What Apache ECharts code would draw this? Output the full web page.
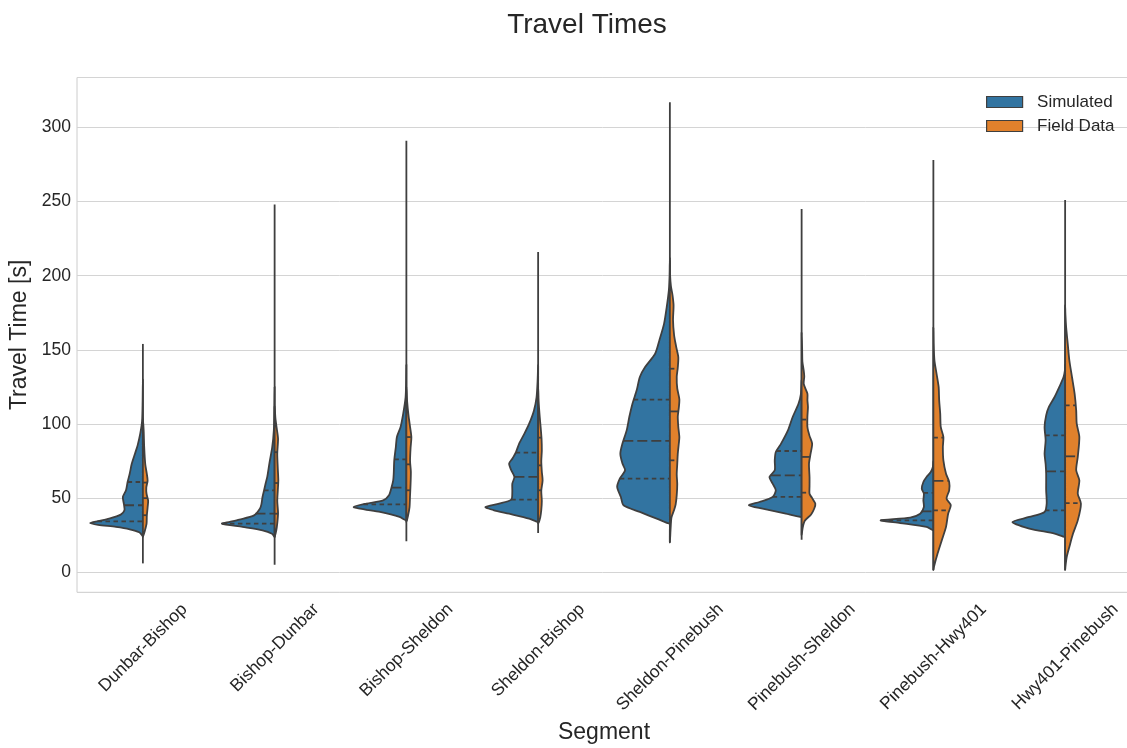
<!DOCTYPE html>
<html><head><meta charset="utf-8">
<script src="https://cdn.jsdelivr.net/npm/echarts@6/dist/echarts.min.js"></script>
<style>html,body{margin:0;padding:0;background:#fff}#c{width:1127px;height:748px}</style>
</head><body><div id="c"></div><script>
// ---------------- data ----------------
const categories = ['Dunbar-Bishop','Bishop-Dunbar','Bishop-Sheldon','Sheldon-Bishop','Sheldon-Pinebush','Pinebush-Sheldon','Pinebush-Hwy401','Hwy401-Pinebush'];
const seriesNames = ['Simulated', 'Field Data'];

// density outlines: [travel time (s), relative half-width]
const simShapes = [
  [[24.5,0],[27,0.07],[29,0.25],[30.6,0.51],[32,0.85],[33.2,1.0],[34.5,0.85],[36.2,0.64],[38.9,0.42],[41.8,0.35],[46,0.36],[50.8,0.38],[55.3,0.32],[60.9,0.29],[66.5,0.25],[73.3,0.21],[80,0.15],[85.6,0.10],[93.5,0.05],[102,0.015],[115,0.005],[130,0]],
  [[23.8,0],[26,0.05],[28.3,0.23],[30.6,0.61],[32.8,1.0],[34,0.85],[35.5,0.67],[38.4,0.39],[42.9,0.28],[46,0.25],[50.8,0.23],[55.3,0.2],[60,0.17],[64.3,0.14],[73.3,0.1],[84.5,0.045],[95.7,0.015],[110,0.005],[125,0]],
  [[35,0],[37.3,0.13],[40.7,0.5],[42.5,0.8],[44,1.0],[46.3,0.76],[48.5,0.44],[51.9,0.33],[57.5,0.28],[62,0.25],[66.5,0.24],[75.5,0.23],[84.5,0.2],[91.2,0.18],[98,0.11],[107,0.06],[118,0.015],[130,0.004],[140,0]],
  [[33.9,0],[36.2,0.17],[39.5,0.55],[42,0.85],[44,1.0],[46.3,0.74],[49,0.51],[54.1,0.49],[59.8,0.49],[64.3,0.45],[68.8,0.51],[73.3,0.55],[76.6,0.49],[81.1,0.42],[86.8,0.36],[93.5,0.26],[100.2,0.17],[109,0.08],[118,0.03],[129,0.01],[140,0]],
  [[32.8,0],[36.2,0.25],[40.7,0.57],[45.2,0.88],[50.8,0.93],[57.5,1.0],[63.2,0.95],[68.8,0.85],[73.3,0.9],[80,0.94],[86.8,0.9],[95.7,0.82],[104.7,0.77],[113.7,0.71],[122.7,0.63],[131.7,0.57],[138.4,0.47],[147.4,0.28],[156.4,0.2],[167.7,0.11],[178.9,0.06],[190,0.02],[200,0.005],[210,0]],
  [[37.3,0],[39.5,0.3],[42.9,0.74],[45.2,1.0],[47.4,0.8],[50.8,0.55],[55.3,0.49],[59.8,0.55],[64.3,0.61],[68.8,0.51],[75.5,0.51],[81.1,0.49],[86.8,0.39],[95.7,0.26],[104.7,0.17],[113.7,0.06],[120,0.015],[130,0]],
  [[28.3,0],[30.6,0.13],[33.2,0.63],[35,1.0],[36.9,0.44],[39.5,0.25],[44,0.18],[48.5,0.19],[53,0.18],[56.4,0.22],[60.9,0.19],[64.3,0.13],[67.6,0.05],[71,0.01],[75,0]],
  [[23.8,0],[26.1,0.2],[29.5,0.68],[33.9,1.0],[37.3,0.68],[40.7,0.39],[46.3,0.35],[55.3,0.36],[66.5,0.36],[73,0.37],[80,0.39],[89,0.37],[98,0.39],[105.8,0.36],[111.4,0.31],[118.2,0.2],[125,0.11],[131.7,0.03],[136,0.005],[140,0]]
];
const fieldShapes = [
  [[23.7,0],[28.3,0.04],[32.8,0.07],[38,0.075],[43.8,0.09],[48.3,0.1],[52.8,0.07],[57.3,0.065],[61.8,0.09],[66.3,0.075],[73,0.045],[84.5,0.025],[95.7,0.015],[104,0]],
  [[24,0],[28,0.03],[33,0.05],[40,0.065],[48,0.05],[55,0.06],[62,0.07],[70,0.06],[80,0.05],[90,0.065],[97,0.04],[104,0.015],[112,0]],
  [[34,0],[38,0.03],[44,0.06],[52,0.07],[60,0.08],[68,0.085],[75,0.07],[84,0.08],[91,0.095],[98,0.07],[106,0.04],[115,0.015],[125,0]],
  [[33,0],[37,0.04],[42,0.06],[48,0.07],[55,0.06],[62,0.085],[68,0.07],[75,0.06],[82,0.07],[90,0.065],[97,0.05],[105,0.03],[115,0.01],[125,0]],
  [[20,0],[30,0.015],[36.9,0.03],[42,0.08],[45.8,0.11],[52,0.13],[59.5,0.14],[66,0.13],[73,0.14],[80,0.15],[87,0.17],[91.2,0.18],[98,0.16],[105,0.15],[111,0.17],[116.7,0.18],[124,0.14],[131.7,0.13],[138,0.15],[145,0.16],[152,0.12],[160,0.08],[170,0.06],[180,0.07],[187,0.05],[193,0.02],[200,0.005],[212,0]],
  [[25,0],[30,0.02],[34.7,0.06],[39,0.18],[43,0.24],[46.3,0.26],[50,0.2],[53,0.15],[58,0.15],[64.3,0.15],[73.3,0.14],[80,0.17],[86.8,0.2],[92,0.15],[98,0.11],[105,0.11],[111.5,0.12],[116,0.11],[120.5,0.11],[127,0.04],[132,0.05],[136,0.04],[142,0.015],[150,0.01],[162,0]],
  [[1.5,0],[3.6,0.01],[12.6,0.08],[21.6,0.16],[30.6,0.24],[39.5,0.28],[45.2,0.33],[49.7,0.25],[55.3,0.3],[60.9,0.3],[66.5,0.24],[75.5,0.19],[84.5,0.18],[91.2,0.19],[98,0.14],[107,0.13],[116,0.11],[125,0.1],[134,0.06],[143,0.02],[154,0.005],[165,0]],
  [[1.5,0],[3.6,0.005],[10.3,0.03],[17.1,0.08],[26.1,0.15],[35,0.24],[46.3,0.3],[53,0.24],[62,0.27],[68.8,0.21],[77.8,0.24],[91.2,0.27],[100.2,0.22],[109.2,0.21],[120.5,0.18],[131.7,0.13],[143,0.08],[154,0.05],[165,0.02],[174,0.005],[180,0]]
];
// [Q1, median, Q3]
const simQuartiles = [[34.4,45.2,60.9],[32.8,39.5,55.3],[45.8,57.1,76.2],[49,64.3,80.7],[63.2,88.6,116.4],[50.8,65.4,81.8],[35,41.1,53.5],[41.8,68.1,92.4]];
const fieldQuartiles = [[38.5,50,60.5],[39.5,60.2,81],[55.3,72.8,91.2],[55.3,72.1,90.8],[75.5,108.5,137.3],[53.7,77.8,103],[41.8,61.6,90.8],[46.7,78.2,112.6]];
// [min, max] of the thin tails
const lineRanges = [[6,154],[5,248],[21,291],[26.5,216],[20,317],[22,245],[1.5,278],[1.5,251]];

// ---------------- style ----------------
const SIM_COLOR = '#3274a1', FIELD_COLOR = '#e1812c', EDGE = '#3f3f3f', TEXT = '#262626';
const FONT = 'Liberation Sans';
const LW = 1.8;

function widthAt(profile, q) {
  for (let k = 1; k < profile.length; k++) {
    const a = profile[k-1], b = profile[k];
    if (q >= a[0] && q <= b[0]) return a[1] + (b[1]-a[1])*(q-a[0])/(b[0]-a[0]);
  }
  return 0;
}
function makeRender(shapes, quarts, side, fill, withLine) {
  return function(params, api) {
    const i = api.value(0);
    const half = api.size([1, 0])[0] * 0.4;
    const profile = shapes[i];
    const cx = api.coord([i, 0])[0];
    const outer = profile.map(p => [cx + side * p[1] * half, api.coord([i, p[0]])[1]]);
    const inner = profile.slice(1, -1).map(p => [cx, api.coord([i, p[0]])[1]]).reverse();
    const children = [];
    if (withLine) {
      const r = lineRanges[i];
      children.push({type:'line', shape:{x1:cx, y1:api.coord([i, r[0]])[1], x2:cx, y2:api.coord([i, r[1]])[1]},
        style:{stroke:EDGE, lineWidth:LW}});
    }
    children.push({type:'polygon', shape:{points: outer.concat(inner), smooth:0.25},
      style:{fill: fill, stroke: EDGE, lineWidth: LW, lineJoin:'round'}});
    quarts[i].forEach((q, k) => {
      const w = widthAt(profile, q) * half;
      const y = api.coord([i, q])[1];
      const xo = cx + side * w;
      const x1 = side < 0 ? xo : cx, x2 = side < 0 ? cx : xo;
      children.push({type:'line', shape:{x1:x1, y1:y, x2:x2, y2:y},
        style:{stroke: EDGE, lineWidth: LW, lineDash: k === 1 ? [10,4] : [4.5,3.5]}});
    });
    return {type:'group', children: children};
  };
}

// rotated tick labels centred under the tick (matplotlib style)
const TICK_FS = 17.5;
const mctx = document.createElement('canvas').getContext('2d');
mctx.font = TICK_FS + 'px "' + FONT + '"';
const xData = categories.map(c => {
  const L = mctx.measureText(c).width, H = 20;
  return {value: c, textStyle: {align: 'center', verticalAlign: 'top',
    padding: [Math.max(0, 0.25*(L+H) - 8.7), 0.5*(L+H), 0, 0]}};
});
mctx.font = '28px "' + FONT + '"';
const titleW = mctx.measureText('Travel Times').width;

const chart = echarts.init(document.getElementById('c'), null, {renderer: 'canvas'});
chart.setOption({
  animation: false,
  backgroundColor: '#ffffff',
  textStyle: {fontFamily: FONT},
  title: {text: 'Travel Times', left: 582 - titleW/2, top: 6,
    textStyle: {fontSize: 28, fontWeight: 'normal', color: TEXT, fontFamily: FONT}},
  legend: {
    data: seriesNames, orient: 'vertical', left: 981, top: 87, itemWidth: 36, itemHeight: 11, itemGap: 4,
    icon: 'rect', formatter: n => '  ' + n,
    itemStyle: {borderColor: EDGE, borderWidth: 1.2},
    textStyle: {fontSize: 17, color: TEXT, fontFamily: FONT, lineHeight: 20}
  },
  grid: {left: 77, top: 77.5, width: 1054, height: 514.8, show: true, borderColor: '#cccccc', borderWidth: 1,
    containLabel: false, outerBoundsMode: 'none'},
  xAxis: {
    type: 'category', data: xData, boundaryGap: true,
    name: 'Segment', nameLocation: 'middle', nameGap: 129, nameMoveOverlap: false,
    nameTextStyle: {fontSize: 23, color: TEXT, fontFamily: FONT},
    axisLine: {show: false}, axisTick: {show: false}, splitLine: {show: false},
    axisLabel: {interval: 0, rotate: 45, margin: 7, fontSize: TICK_FS, color: TEXT, fontFamily: FONT,
      align: 'center', verticalAlign: 'top', hideOverlap: false}
  },
  yAxis: {
    type: 'value', min: -13.5, max: 333.7, splitNumber: 7,
    name: 'Travel Time [s]', nameLocation: 'middle', nameGap: 46, nameRotate: 90, nameMoveOverlap: false,
    nameTextStyle: {fontSize: 23, color: TEXT, fontFamily: FONT},
    axisLine: {show: false}, axisTick: {show: false},
    splitLine: {show: true, lineStyle: {color: '#d4d4d4', width: 1}},
    axisLabel: {fontSize: TICK_FS, color: TEXT, margin: 6, fontFamily: FONT,
      formatter: v => (Math.abs(v % 50) < 1e-6 ? String(v) : '')}
  },
  series: [
    {name: seriesNames[0], type: 'custom', color: SIM_COLOR, itemStyle: {color: SIM_COLOR},
     renderItem: makeRender(simShapes, simQuartiles, -1, SIM_COLOR, true),
     encode: {x: 0, y: 1}, data: categories.map((c, i) => [i, simQuartiles[i][1]]), z: 2},
    {name: seriesNames[1], type: 'custom', color: FIELD_COLOR, itemStyle: {color: FIELD_COLOR},
     renderItem: makeRender(fieldShapes, fieldQuartiles, 1, FIELD_COLOR, false),
     encode: {x: 0, y: 1}, data: categories.map((c, i) => [i, fieldQuartiles[i][1]]), z: 3}
  ]
});
</script></body></html>
